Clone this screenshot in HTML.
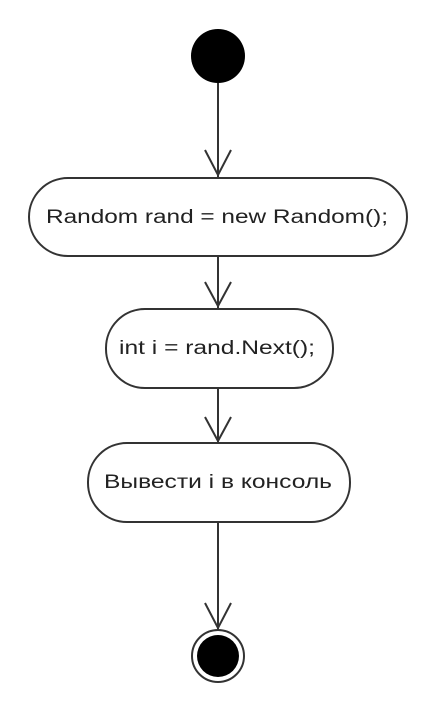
<!DOCTYPE html>
<html><head><meta charset="utf-8"><style>html,body{margin:0;padding:0;background:#fff}</style></head>
<body>
<svg width="430" height="716" viewBox="0 0 430 716" xmlns="http://www.w3.org/2000/svg">
<g stroke="#333" stroke-width="2" fill="none">
<line x1="218" y1="83" x2="218" y2="177"/>
<polyline points="205,150 218,175 231,150"/>
<line x1="218" y1="256" x2="218" y2="308"/>
<polyline points="205,282 218,306 231,282"/>
<line x1="218" y1="388" x2="218" y2="443"/>
<polyline points="205,417 218,441 231,417"/>
<line x1="218" y1="522" x2="218" y2="632"/>
<polyline points="205,603 218,628 231,603"/>
<rect x="29" y="178" width="378" height="78" rx="39" fill="#fff"/>
<rect x="106" y="309" width="227" height="79" rx="39" fill="#fff"/>
<rect x="88" y="443" width="262" height="79" rx="39" fill="#fff"/>
</g>
<circle cx="218" cy="56" r="27" fill="#000"/>
<circle cx="218" cy="656" r="26" fill="#fff" stroke="#333" stroke-width="2"/>
<circle cx="218" cy="656" r="21" fill="#000"/>
<g font-family="Liberation Sans, sans-serif" font-size="19" fill="#222" text-anchor="middle">
<text x="217" y="223" textLength="342" lengthAdjust="spacingAndGlyphs">Random rand = new Random();</text>
<text x="217" y="354" textLength="196" lengthAdjust="spacingAndGlyphs">int i = rand.Next();</text>
<text x="218" y="488" textLength="228" lengthAdjust="spacingAndGlyphs">Вывести i в консоль</text>
</g>
</svg>
</body></html>
